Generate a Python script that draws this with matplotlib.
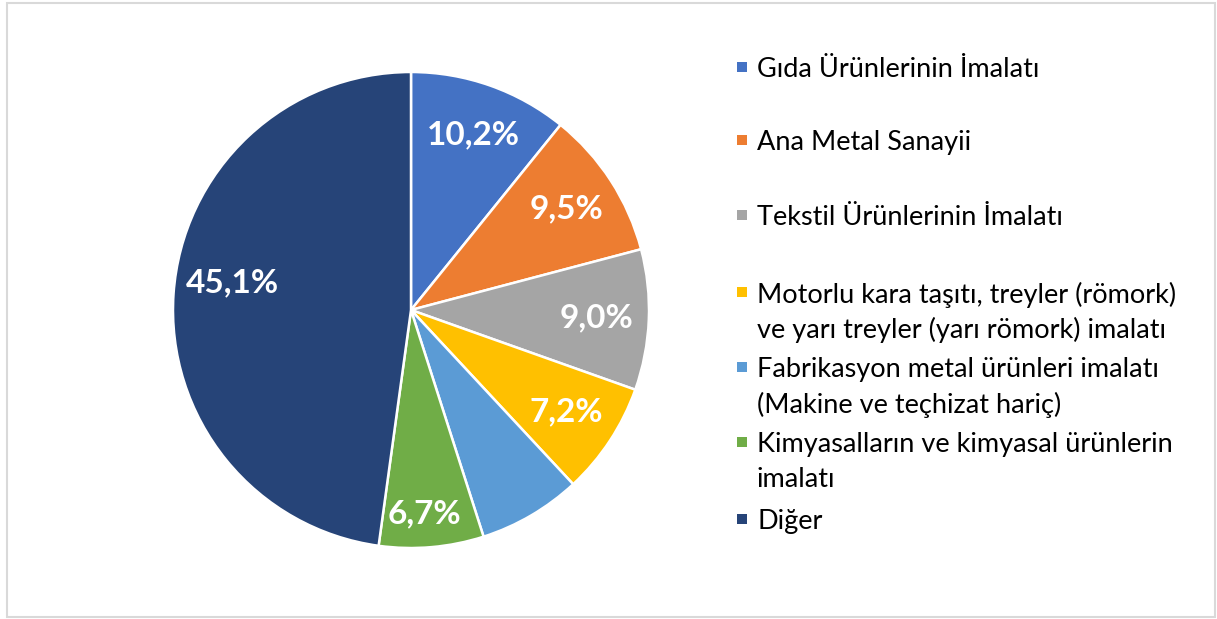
import matplotlib
matplotlib.use("Agg")
import matplotlib.pyplot as plt
from matplotlib.patches import Rectangle
import numpy as np

categories = [
    "Gıda Ürünlerinin İmalatı",
    "Ana Metal Sanayii",
    "Tekstil Ürünlerinin İmalatı",
    "Motorlu kara taşıtı, treyler (römork)\nve yarı treyler (yarı römork) imalatı",
    "Fabrikasyon metal ürünleri imalatı\n(Makine ve teçhizat hariç)",
    "Kimyasalların ve kimyasal ürünlerin\nimalatı",
    "Diğer",
]
values = [10.2, 9.5, 9.0, 7.2, 6.6, 6.7, 45.1]
show_label = [True, True, True, True, False, True, True]
colors = ["#4472C4", "#ED7D31", "#A5A5A5", "#FFC000", "#5B9BD5", "#70AD47", "#264478"]

W, H = 1217, 619
fig = plt.figure(figsize=(W / 100, H / 100), dpi=100)
fig.patch.set_facecolor("white")

# outer border
fig.add_artist(Rectangle((7 / W, 2 / H), (1215 - 7) / W, (616 - 2) / H,
                         transform=fig.transFigure, fill=False,
                         edgecolor="#D9D9D9", linewidth=1.5))

cx, cy, r = 411, 310, 238
ax = fig.add_axes([(cx - r) / W, (H - cy - r) / H, 2 * r / W, 2 * r / H])
wedges, _ = ax.pie(values, colors=colors, startangle=90, counterclock=False,
                   radius=1.0, wedgeprops=dict(edgecolor="white", linewidth=1.8))
ax.set_xlim(-1, 1)
ax.set_ylim(-1, 1)
ax.set_aspect("equal")
ax.axis("off")

label_dist = [0.78, 0.78, 0.78, 0.78, 0.78, 0.86, 0.757]
label_rot = [0, 0, 0, 0, 0, -1.3, -4.7]
for w, v, show, d, dr in zip(wedges, values, show_label, label_dist, label_rot):
    if not show:
        continue
    ang = np.deg2rad((w.theta1 + w.theta2) / 2 + dr)
    ax.text(d * np.cos(ang), d * np.sin(ang), f"{v:.1f}%".replace(".", ","),
            ha="center", va="center", color="white", fontsize=24,
            fontweight="bold", family="Lato")

# legend (manual layout)
leg_y = [67, 140, 215, 292, 367, 442, 519]
line_h = 35
for cat, col, y in zip(categories, colors, leg_y):
    fig.add_artist(Rectangle((737 / W, (H - y - 5) / H), 10 / W, 10 / H,
                             transform=fig.transFigure, facecolor=col,
                             edgecolor="none"))
    for i, line in enumerate(cat.split("\n")):
        fig.text(757 / W, (H - y - i * line_h) / H, line, ha="left",
                 va="center_baseline", fontsize=19.5, family="Lato", color="black")

fig.savefig("out.png", dpi=100, facecolor="white")
